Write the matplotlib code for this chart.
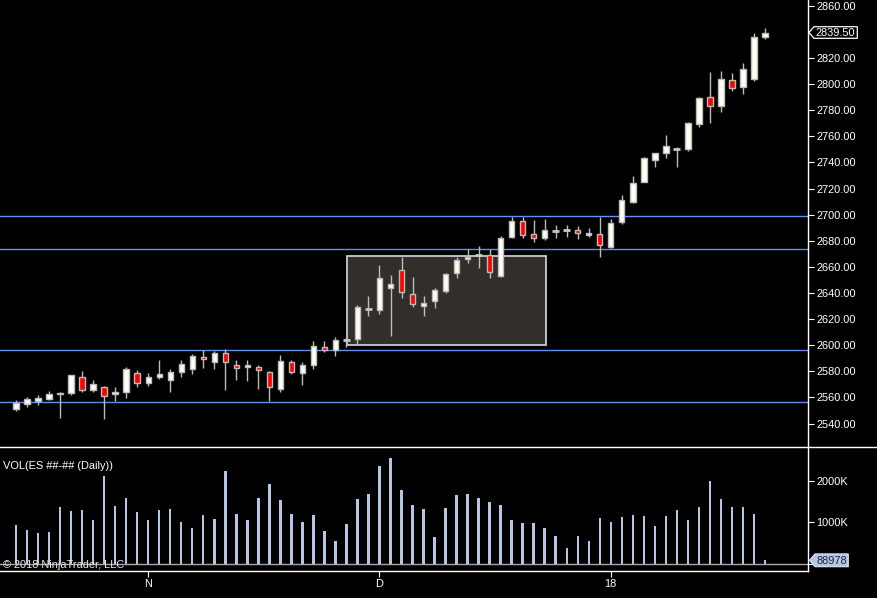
import matplotlib
matplotlib.use('Agg')
import matplotlib.pyplot as plt
from matplotlib.patches import Rectangle, Polygon
from matplotlib.lines import Line2D
import numpy as np

plt.rcParams['font.family'] = ['Liberation Sans', 'DejaVu Sans']

# ---------------- data ----------------
opens = [2550.9, 2554.7, 2557.5, 2559.0, 2562.5, 2563.6, 2575.4, 2565.4, 2567.7, 2562.3,
         2563.9, 2578.4, 2570.8, 2575.4, 2573.6, 2579.7, 2582.0, 2590.7, 2586.9, 2593.7,
         2584.5, 2583.3, 2583.0, 2579.2, 2566.7, 2586.9, 2578.4, 2584.5, 2598.4, 2596.0,
         2604.2, 2605.0, 2628.0, 2627.2, 2643.5, 2657.3, 2638.9, 2629.7, 2633.6, 2641.7,
         2655.0, 2665.7, 2668.8, 2668.8, 2652.7, 2683.1, 2695.1, 2684.9, 2681.8, 2687.2,
         2688.0, 2688.2, 2684.1, 2684.9, 2674.9, 2694.1, 2709.9, 2725.2, 2742.1, 2746.9,
         2750.5, 2750.0, 2769.2, 2790.3, 2782.9, 2803.4, 2797.5, 2804.1, 2835.8]
highs = [2557.7, 2560.3, 2561.6, 2564.6, 2564.4, 2577.5, 2580.2, 2573.1, 2568.7, 2567.7,
         2583.0, 2580.7, 2578.4, 2588.4, 2581.7, 2588.6, 2593.0, 2596.0, 2595.8, 2597.1,
         2588.4, 2588.4, 2584.5, 2580.0, 2592.5, 2588.4, 2586.8, 2603.2, 2603.2, 2606.2,
         2606.0, 2630.5, 2637.7, 2661.4, 2653.7, 2667.8, 2652.2, 2637.7, 2644.0, 2655.5,
         2667.3, 2673.4, 2675.9, 2673.4, 2683.3, 2698.2, 2698.2, 2695.9, 2696.6, 2691.8,
         2691.8, 2691.0, 2689.5, 2698.2, 2696.6, 2715.0, 2729.3, 2744.1, 2747.5, 2761.0,
         2752.0, 2771.2, 2790.3, 2809.5, 2810.0, 2808.2, 2816.1, 2838.8, 2842.7]
lows = [2549.3, 2552.9, 2554.4, 2558.0, 2544.5, 2562.1, 2563.9, 2564.4, 2543.7, 2557.5,
        2559.8, 2568.2, 2569.0, 2573.8, 2564.4, 2575.9, 2578.2, 2582.8, 2582.0, 2565.9,
        2573.6, 2572.8, 2566.7, 2557.5, 2564.4, 2577.6, 2569.5, 2582.0, 2595.0, 2592.0,
        2598.8, 2600.1, 2622.6, 2624.1, 2607.3, 2636.4, 2629.2, 2622.6, 2628.7, 2640.2,
        2651.7, 2663.2, 2659.4, 2651.7, 2652.0, 2682.3, 2682.3, 2679.3, 2680.8, 2682.3,
        2683.1, 2681.6, 2683.1, 2667.8, 2674.2, 2692.6, 2708.6, 2724.7, 2736.7, 2743.1,
        2736.7, 2748.7, 2766.8, 2769.9, 2778.8, 2794.4, 2792.1, 2802.6, 2834.3]
closes = [2555.4, 2558.5, 2559.5, 2562.3, 2563.2, 2576.9, 2565.9, 2570.0, 2560.8, 2564.1,
          2581.5, 2570.8, 2575.4, 2577.6, 2579.2, 2585.3, 2591.4, 2589.1, 2593.7, 2586.9,
          2582.3, 2584.5, 2581.0, 2567.7, 2587.6, 2579.2, 2584.5, 2599.1, 2596.6, 2603.9,
          2604.2, 2629.0, 2628.0, 2651.2, 2646.6, 2641.0, 2631.3, 2632.0, 2642.0, 2654.2,
          2665.0, 2667.8, 2668.8, 2655.8, 2681.8, 2695.1, 2684.1, 2681.8, 2688.0, 2687.2,
          2688.0, 2685.7, 2685.6, 2676.5, 2693.6, 2711.2, 2724.2, 2743.3, 2747.2, 2752.3,
          2750.5, 2769.9, 2789.0, 2782.9, 2804.1, 2796.7, 2811.3, 2835.8, 2839.5]
volumes_k = [944, 824, 752, 776, 1376, 1280, 1304, 1064, 2120, 1400,
             1592, 1256, 1064, 1304, 1328, 1016, 872, 1184, 1088, 2240,
             1208, 1064, 1592, 1928, 1544, 1208, 1016, 1184, 800, 560,
             968, 1568, 1688, 2360, 2552, 1784, 1424, 1328, 656, 1352,
             1664, 1688, 1592, 1496, 1424, 1064, 992, 992, 872, 680,
             392, 680, 560, 1112, 1016, 1136, 1184, 1160, 920, 1160,
             1304, 1064, 1376, 2000, 1568, 1376, 1376, 1208, 88.978]
last_volume = 88978
x_tick_pos = [12, 33, 54]
x_tick_labels = ['N', 'D', '18']
price_ticks = list(range(2540, 2861, 20))
vol_ticks = [0, 1000, 2000]
vol_tick_labels = ['', '1000K', '2000K']
h_levels = [2699.0, 2673.6, 2596.1, 2556.2]
zone_x = (30.08, 48.16)
zone_y = (2599.9, 2668.1)

# ---------------- figure ----------------
W, H = 877, 598
fig = plt.figure(figsize=(W / 100, H / 100), dpi=100, facecolor='black')


def px_axes(left, top, right, bottom):
    return fig.add_axes([left / W, 1 - bottom / H, (right - left) / W, (bottom - top) / H])


ax = px_axes(0, 0, 808.3, 447)
axv = px_axes(0, 447, 808.3, 571)

n = len(opens)
xs = np.arange(n)
O = np.array(opens); Hh = np.array(highs); L = np.array(lows); C = np.array(closes)

for a in (ax, axv):
    a.set_facecolor('black')
    a.set_xlim(-1.48, 71.96)
    for s in ('left', 'top'):
        a.spines[s].set_visible(False)
    a.spines['right'].set_color('white')
    a.spines['right'].set_linewidth(1)

ax.spines['bottom'].set_visible(False)
axv.spines['bottom'].set_color('white')
axv.spines['bottom'].set_linewidth(1)

ax.set_ylim(2522.0, 2864.4)
axv.set_ylim(-168, 2812)

# horizontal lines
for lv in h_levels:
    ax.axhline(lv, color='#6690f0', lw=1.0, zorder=1)

# zone rectangle
ax.add_patch(Rectangle((zone_x[0], zone_y[0]), zone_x[1] - zone_x[0], zone_y[1] - zone_y[0],
                       facecolor='#322e2a', edgecolor='#c4ccd4', lw=1.3, zorder=2))

edge = '#bcbcbc'
ax.vlines(xs, L, Hh, color=edge, lw=1.0, zorder=3)
doji = np.abs(C - O) < 0.3
body_w = 0.52
for i in range(n):
    if doji[i]:
        ax.hlines(O[i], xs[i] - body_w / 2 - 0.05, xs[i] + body_w / 2 + 0.05,
                  color='#c8c8c8', lw=2.0, zorder=4)
    else:
        lo = min(O[i], C[i]); hi = max(O[i], C[i])
        fc = '#fffff2' if C[i] > O[i] else '#ff0000'
        ax.add_patch(Rectangle((xs[i] - body_w / 2, lo), body_w, hi - lo,
                               facecolor=fc, edgecolor=edge, lw=1.0, zorder=4))

ax.set_xticks([])
ax.yaxis.tick_right()
ax.set_yticks(price_ticks)
ax.set_yticklabels([f'{p:.2f}' for p in price_ticks])
ax.tick_params(axis='y', colors='white', length=4.3, width=0.8, pad=1.5, labelsize=7.9)

# volume
axv.axhline(0, color='#a8a8a8', lw=1.0, zorder=1)
axv.bar(xs, volumes_k, width=0.2, color='#b4c6e2', zorder=2)
axv.yaxis.tick_right()
axv.set_yticks(vol_ticks)
axv.set_yticklabels(vol_tick_labels)
axv.tick_params(axis='y', colors='white', length=4.3, width=0.8, pad=1.5, labelsize=7.9)
axv.set_xticks(x_tick_pos)
axv.set_xticklabels(x_tick_labels)
axv.tick_params(axis='x', colors='white', length=4.0, width=0.8, pad=1.8, labelsize=7.9)

# separator between panels
fig.add_artist(Line2D([0, 1], [1 - 447 / H] * 2, color='white', lw=1.0, transform=fig.transFigure))

# overlay in pixel coordinates for labels
ov = fig.add_axes([0, 0, 1, 1], zorder=10)
ov.set_xlim(0, W); ov.set_ylim(H, 0)
ov.axis('off'); ov.patch.set_alpha(0)

fig.canvas.draw()
py = H - ax.transData.transform((0, C[-1]))[1]
ov.add_patch(Polygon([(809, py), (814, py - 5.8), (857.3, py - 5.8), (857.3, py + 5.8), (814, py + 5.8)],
                     closed=True, facecolor='black', edgecolor='white', lw=0.9))
ov.text(835.7, py, f'{C[-1]:.2f}', color='white', fontsize=7.9, ha='center', va='center')

vy = H - axv.transData.transform((0, volumes_k[-1]))[1]
ov.add_patch(Polygon([(809.5, vy), (815, vy - 6.4), (848.3, vy - 6.4), (848.3, vy + 6.4), (815, vy + 6.4)],
                     closed=True, facecolor='#b4c6e2', edgecolor='#dde6f2', lw=0.8))
ov.text(831.8, vy + 0.3, f'{last_volume}', color='#1c2440', fontsize=7.9, ha='center', va='center')

ov.text(3, 466, 'VOL(ES ##-## (Daily))', color='white', fontsize=7.9, ha='left', va='center')
ov.text(3, 565.5, '\u00a9 2018 NinjaTrader, LLC', color='#e8e8e8', fontsize=7.9, ha='left', va='center')

fig.savefig('out.png', dpi=100, facecolor='black')
